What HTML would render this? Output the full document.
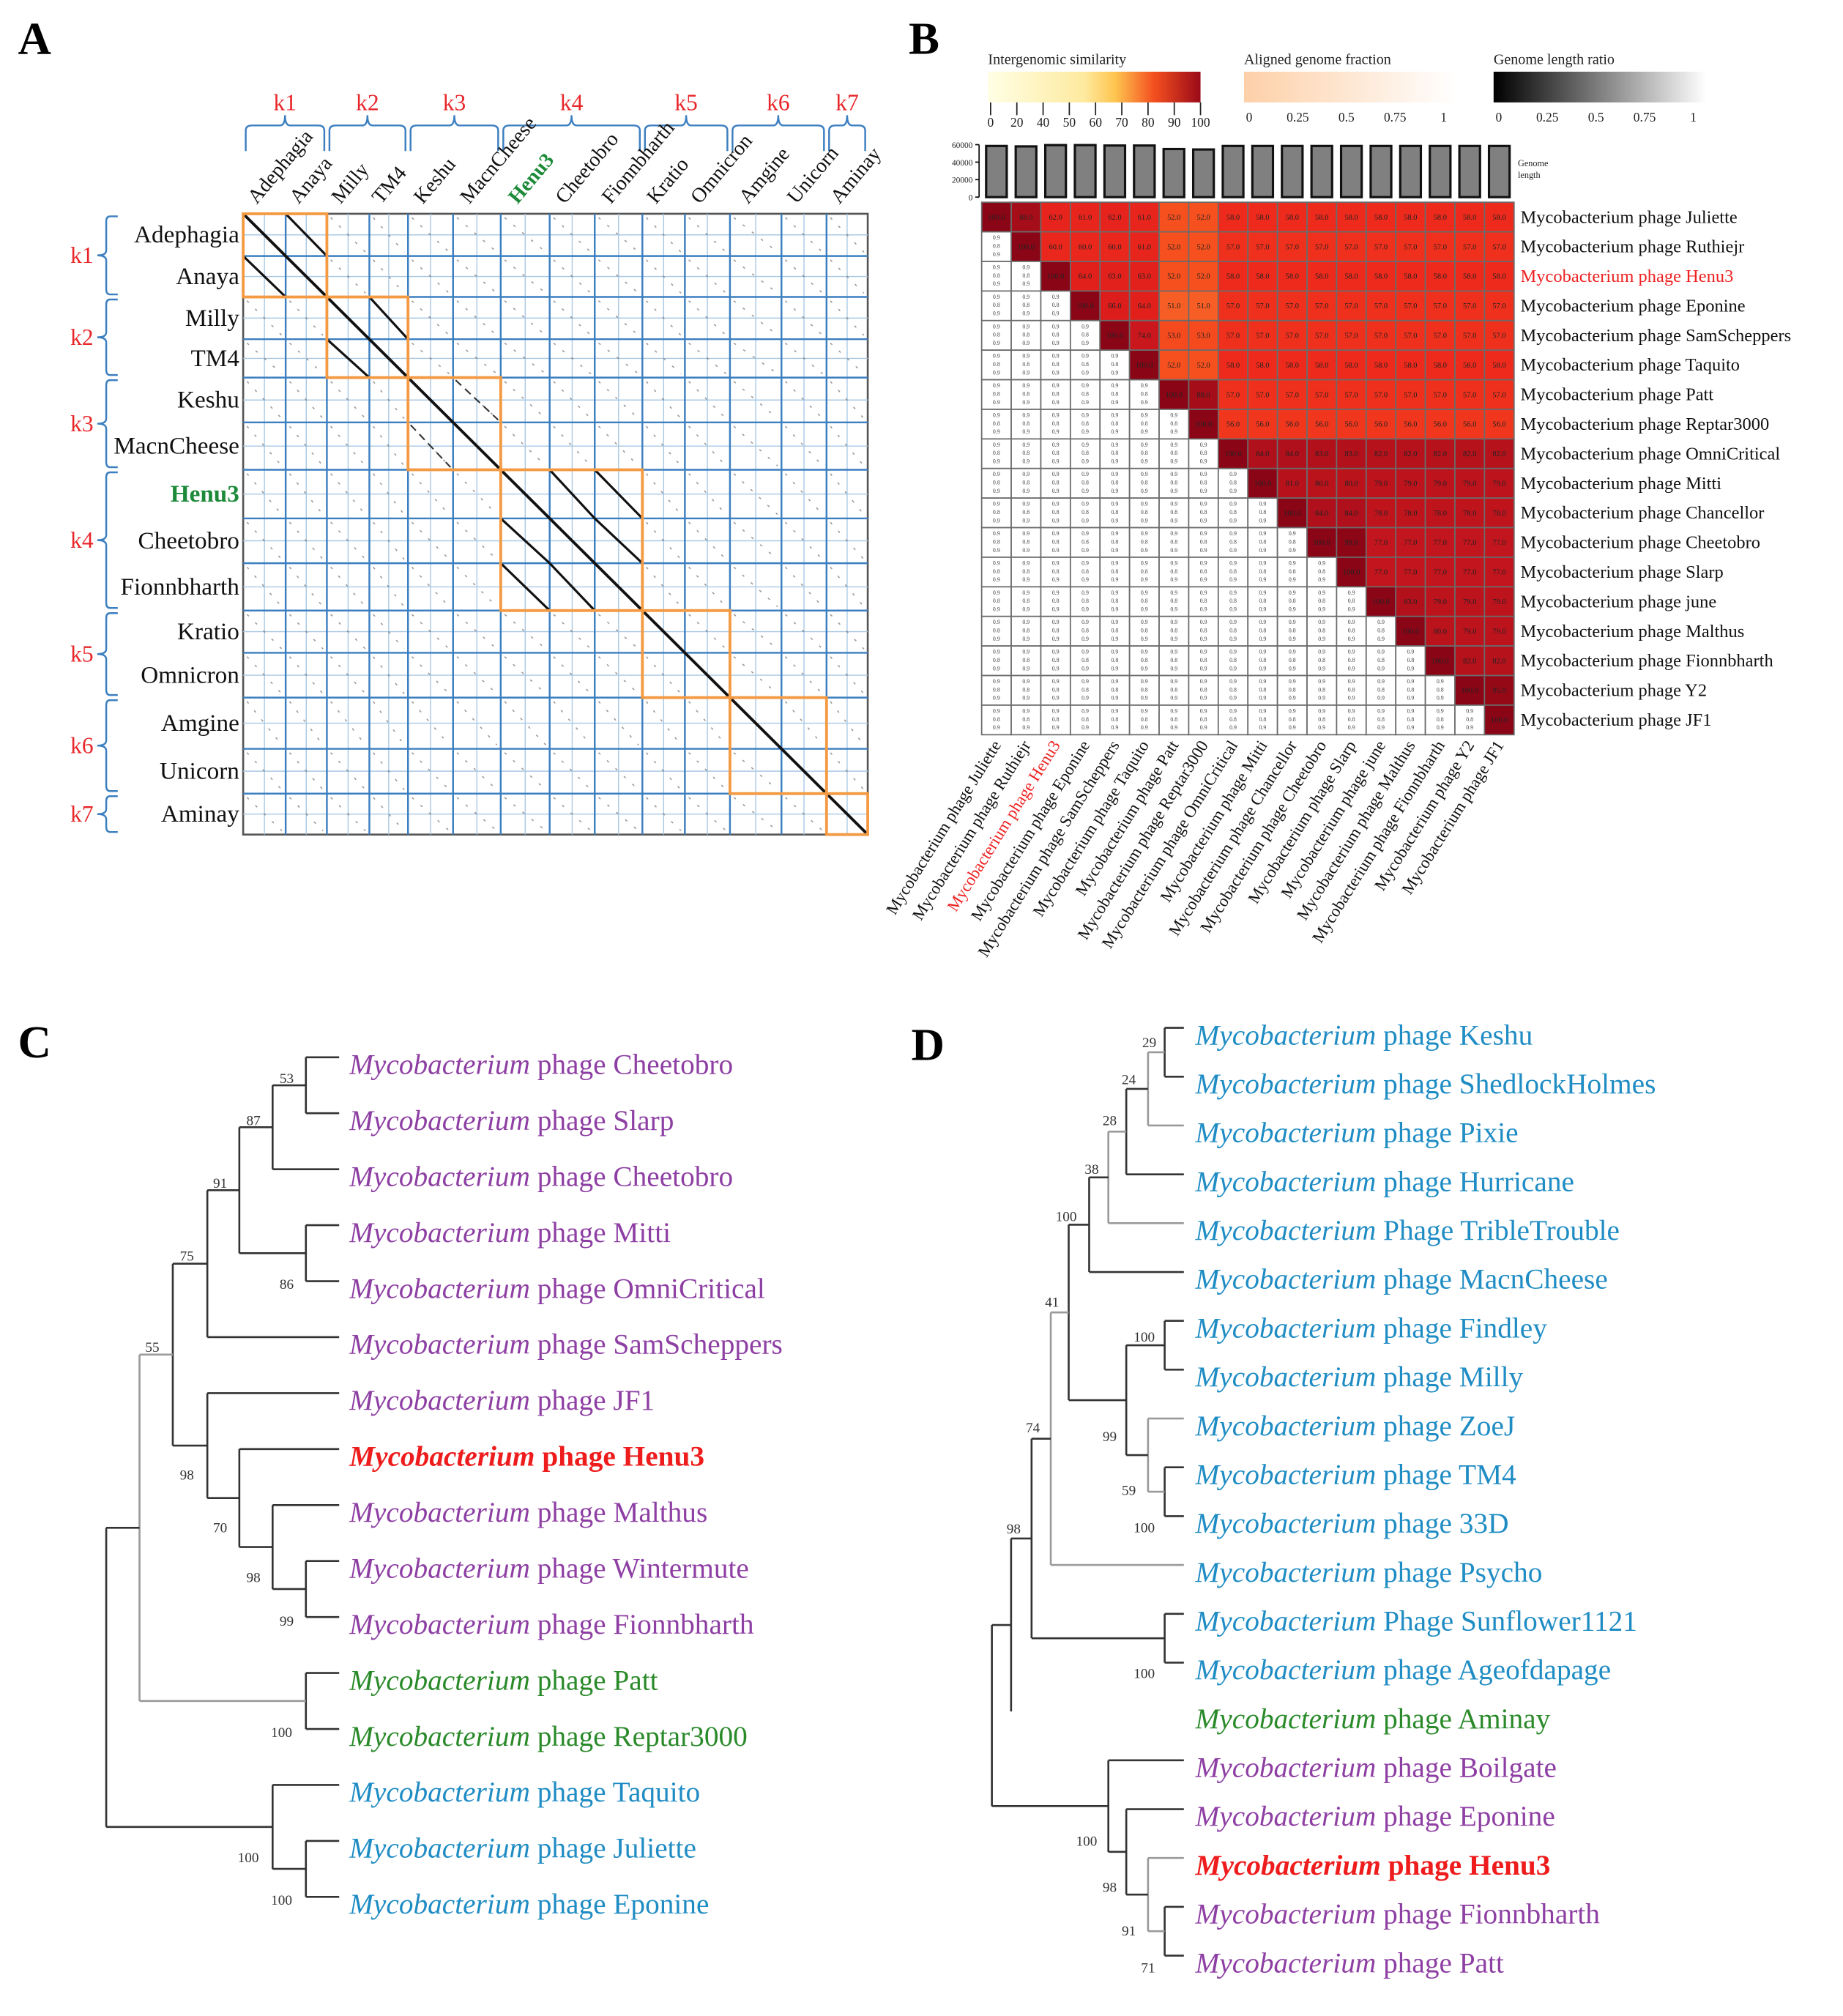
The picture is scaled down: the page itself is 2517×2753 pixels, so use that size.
<!DOCTYPE html>
<html><head><meta charset="utf-8">
<style>
html,body{margin:0;padding:0;background:#fff;}
svg{display:block;font-family:"Liberation Serif",serif;}
</style></head>
<body>
<svg id="fig" xmlns="http://www.w3.org/2000/svg" width="2517" height="2753" viewBox="0 0 1440 1575">
<rect x="0" y="0" width="1440" height="1575" fill="#fff"/>
<text x="14" y="42" font-size="36" font-weight="bold">A</text>
<text x="710" y="42" font-size="36" font-weight="bold">B</text>
<text x="14" y="826" font-size="36" font-weight="bold">C</text>
<text x="712" y="828" font-size="36" font-weight="bold">D</text>
<g id="pa"></g>
<g id="pb"></g>
<g id="pc"></g>
<g id="pd"></g>
</svg>
<script>
// ---------- Panel A data ----------
const aGenomes = ["Adephagia","Anaya","Milly","TM4","Keshu","MacnCheese","Henu3","Cheetobro","Fionnbharth","Kratio","Omnicron","Amgine","Unicorn","Aminay"];
const aLengths = [33,32,33,30,35,37,38,35,37,33,35,40,35,32];
const aClusters = ["k1","k2","k3","k4","k5","k6","k7"];
const aClusterStart = [0,2,4,6,9,11,13];
const aClusterEnd = [2,4,6,9,11,13,14];
const aClusterOffDiag = [1,1,2,1,0,0,0];

// ---------- Panel B data ----------
const bPhages = ["Juliette","Ruthiejr","Henu3","Eponine","SamScheppers","Taquito","Patt","Reptar3000","OmniCritical","Mitti","Chancellor","Cheetobro","Slarp","june","Malthus","Fionnbharth","Y2","JF1"];
const bGenomeLen = [58500,58000,59500,59500,59000,59000,55000,54500,58500,58500,58500,58500,58500,58500,58500,58500,58500,58500];
const bSimRows = [
 [100,88,62,61,62,61,52,52,58,58,58,58,58,58,58,58,58,58],
 [100,60,60,60,61,52,52,57,57,57,57,57,57,57,57,57,57],
 [100,64,63,63,52,52,58,58,58,58,58,58,58,58,58,58],
 [100,66,64,51,51,57,57,57,57,57,57,57,57,57,57],
 [100,74,53,53,57,57,57,57,57,57,57,57,57,57],
 [100,52,52,58,58,58,58,58,58,58,58,58,58],
 [100,88,57,57,57,57,57,57,57,57,57,57],
 [100,56,56,56,56,56,56,56,56,56,56],
 [100,84,84,83,83,82,82,82,82,82],
 [100,81,80,80,79,79,79,79,79],
 [100,84,84,78,78,78,78,78],
 [100,99,77,77,77,77,77],
 [100,77,77,77,77,77],
 [100,83,79,79,79],
 [100,80,79,79],
 [100,82,82],
 [100,95],
 [100]
];
const bLenTicks = [0,20000,40000,60000];
const bSimTicks = [0,20,40,50,60,70,80,90,100];
const bFracTicks = ["0","0.25","0.5","0.75","1"];

// ---------- Panel C data ----------
const cLeaves = ["Cheetobro","Slarp","Cheetobro","Mitti","OmniCritical","SamScheppers","JF1","Henu3","Malthus","Wintermute","Fionnbharth","Patt","Reptar3000","Taquito","Juliette","Eponine"];
const cColors = ["p","p","p","p","p","p","p","r","p","p","p","g","g","b","b","b"];
const cSupport = ["53","87","91","86","75","55","98","70","98","99","100","100","100"];

// ---------- Panel D data ----------
const dLeaves = ["Keshu","ShedlockHolmes","Pixie","Hurricane","TribleTrouble","MacnCheese","Findley","Milly","ZoeJ","TM4","33D","Psycho","Sunflower1121","Ageofdapage","Aminay","Boilgate","Eponine","Henu3","Fionnbharth","Patt"];
const dColors = ["b","b","b","b","b","b","b","b","b","b","b","b","b","b","g","p","p","r","p","p"];
const dSupport = ["29","24","28","38","100","41","100","99","74","59","100","98","100","100","98","91","71"];

const NS="http://www.w3.org/2000/svg";
function mk(tag, attrs, parent){const e=document.createElementNS(NS,tag);for(const k in attrs)e.setAttribute(k,attrs[k]);parent.appendChild(e);return e;}
const COL={p:"#8e3fa3",r:"#ee1c1c",g:"#2a8a2a",b:"#1f8cc4"};

// =============== PANEL A ===============
(function(){
 const g=document.getElementById('pa');
 const X0=190,X1=678,Y0=167,Y1=652;
 const tot=aLengths.reduce((a,b)=>a+b,0);
 const cum=[0];aLengths.forEach(v=>cum.push(cum[cum.length-1]+v));
 const xs=i=>X0+(X1-X0)*cum[i]/tot, ys=i=>Y0+(Y1-Y0)*cum[i]/tot;
 const frame=mk('rect',{x:X0,y:Y0,width:X1-X0,height:Y1-Y0,fill:'#fff',stroke:'#555','stroke-width':1.5},g);
 
 
 for(let i=0;i<aGenomes.length;i++){
  const xm=(xs(i)+xs(i+1))/2, ym=(ys(i)+ys(i+1))/2;
  mk('line',{x1:xm,y1:Y0,x2:xm,y2:Y1,stroke:'#a9c8e4','stroke-width':0.8},g);
  mk('line',{x1:X0,y1:ym,x2:X1,y2:ym,stroke:'#a9c8e4','stroke-width':0.8},g);
 }
 for(let i=0;i<aGenomes.length;i++)for(let j=0;j<aGenomes.length;j++){
  if(i===j)continue;
  mk('line',{x1:xs(j)+3,y1:ys(i)+3,x2:xs(j+1)-3,y2:ys(i+1)-3,stroke:'#777','stroke-width':0.9,'stroke-dasharray':'2 7',opacity:0.75},g);
 }
 for(let i=1;i<aGenomes.length;i++){
  const v=mk('line',{x1:xs(i),y1:Y0,x2:xs(i),y2:Y1,stroke:'#3c7fc0','stroke-width':1.4},g);
  
  
  const h=mk('line',{x1:X0,y1:ys(i),x2:X1,y2:ys(i),stroke:'#3c7fc0','stroke-width':1.4},g);
  
  
 }
 aClusters.forEach((k,ci)=>{
  const s=aClusterStart[ci],e=aClusterEnd[ci];
  for(let i=s;i<e;i++)for(let j=s;j<e;j++){
   if(i!==j && aClusterOffDiag[ci]===0) continue;
   if(i!==j && aClusterOffDiag[ci]===2){
    mk('line',{x1:xs(j)+2,y1:ys(i)+2,x2:xs(j+1)-2,y2:ys(i+1)-2,stroke:'#333','stroke-width':1.2,'stroke-dasharray':'6 4'},g);
    continue;
   }
   const ln=mk('line',{x1:xs(j),y1:ys(i),x2:xs(j+1),y2:ys(i+1),stroke:'#111','stroke-width':i===j?2.2:1.8},g);
   
   
  }
  const bx=mk('rect',{x:xs(s),y:ys(s),width:xs(e)-xs(s),height:ys(e)-ys(s),fill:'none',stroke:'#f39a43','stroke-width':2.2},g);
  
  
  const x1=xs(s)+2,x2=xs(e)-2,xm=(x1+x2)/2;
  const tb=mk('path',{d:`M${x1},118 L${x1},102 Q${x1},98 ${x1+5},98 L${xm-4},98 Q${xm},98 ${xm},90 Q${xm},98 ${xm+4},98 L${x2-5},98 Q${x2},98 ${x2},102 L${x2},118`,fill:'none',stroke:'#3c7fc0','stroke-width':1.4},g);
  
  
  const tl=mk('text',{x:xm,y:86,'font-size':18,fill:'#e8262a','text-anchor':'middle'},g);
  tl.textContent=k;
  
  
  const y1=ys(s)+2,y2=ys(e)-2,ym=(y1+y2)/2;
  const lb=mk('path',{d:`M92,${y1} L86,${y1} Q83,${y1} 83,${y1+4} L83,${ym-4} Q83,${ym} 76,${ym} Q83,${ym} 83,${ym+4} L83,${y2-4} Q83,${y2} 86,${y2} L92,${y2}`,fill:'none',stroke:'#3c7fc0','stroke-width':1.4},g);
  
  
  const ll=mk('text',{x:64,y:ym+6,'font-size':18,fill:'#e8262a','text-anchor':'middle'},g);
  ll.textContent=k;
  
  
 });
 aGenomes.forEach((n,i)=>{
  const isH=n==='Henu3';
  const ym=(ys(i)+ys(i+1))/2;
  const t=mk('text',{x:187,y:ym+6,'font-size':19,'text-anchor':'end',fill:isH?'#1d8a3a':'#111','font-weight':isH?'bold':'normal'},g);
  t.textContent=n;
  
  
  const xm=(xs(i)+xs(i+1))/2;
  const c=mk('text',{x:0,y:0,'font-size':16,transform:`translate(${xm-6},${160}) rotate(-50)`,fill:isH?'#1d8a3a':'#111','font-weight':isH?'bold':'normal'},g);
  c.textContent=n;
  
  
 });
})();

// =============== PANEL B ===============
(function(){
 const g=document.getElementById('pb');
 const X0=767,Y0=158,N=bPhages.length,CS=416/N;
 const stops=[[0,'#ffffcc'],[30,'#ffeda0'],[45,'#feb24c'],[52,'#f5501e'],[58,'#ee2a1c'],[66,'#dd1c1c'],[78,'#c0141d'],[86,'#a90f1a'],[100,'#8a0516']];
 function hex(c){return [1,3,5].map(i=>parseInt(c.substr(i,2),16));}
 function col(v){for(let k=1;k<stops.length;k++){if(v<=stops[k][0]){const a=stops[k-1],b=stops[k];const t=(v-a[0])/(b[0]-a[0]);const A=hex(a[1]),B=hex(b[1]);return 'rgb('+A.map((x,i)=>Math.round(x+(B[i]-x)*t)).join(',')+')';}}return stops[stops.length-1][1];}
 const defs=mk('defs',{},g);
 const lg1=mk('linearGradient',{id:'gs'},defs);
 [[0,'#ffffe5'],[0.45,'#feeaa0'],[0.6,'#fec44f'],[0.78,'#f4501f'],[1,'#9a0a18']].forEach(s=>mk('stop',{offset:s[0],'stop-color':s[1]},lg1));
 const lg2=mk('linearGradient',{id:'gf'},defs);
 [[0,'#fdd0a8'],[1,'#ffffff']].forEach(s=>mk('stop',{offset:s[0],'stop-color':s[1]},lg2));
 const lg3=mk('linearGradient',{id:'gl'},defs);
 [[0,'#000'],[1,'#fff']].forEach(s=>mk('stop',{offset:s[0],'stop-color':s[1]},lg3));
 const legs=[[772,'gs','Intergenomic similarity','similarity-legend'],[972,'gf','Aligned genome fraction','fraction-legend'],[1167,'gl','Genome length ratio','length-ratio-legend']];
 legs.forEach(L=>{
  const t=mk('text',{x:L[0],y:50,'font-size':11.5,fill:'#222'},g);t.textContent=L[2];
  
  
  const r=mk('rect',{x:L[0],y:56,width:166,height:24,fill:`url(#${L[1]})`},g);
  
  
 });
 bSimTicks.forEach((v,i)=>{
  const x=774+i*20.5;
  mk('line',{x1:x,y1:80,x2:x,y2:90,stroke:'#222','stroke-width':1},g);
  const t=mk('text',{x:x,y:99,'font-size':10,'text-anchor':'middle',fill:'#222'},g);t.textContent=v;
  
  
 });
 bFracTicks.forEach((v,i)=>{
  [972,1167].forEach(x0=>{
   const t=mk('text',{x:x0+4+i*38,y:95,'font-size':10,'text-anchor':'middle',fill:'#222'},g);t.textContent=v;
   
   
  });
 });
 const ly=v=>154-v*(41/60000);
 mk('line',{x1:765,y1:ly(0),x2:765,y2:ly(60000),stroke:'#111','stroke-width':1},g);
 bLenTicks.forEach(v=>{
  mk('line',{x1:762,y1:ly(v),x2:765,y2:ly(v),stroke:'#111'},g);
  const t=mk('text',{x:760,y:ly(v)+2.5,'font-size':6.5,'text-anchor':'end',fill:'#222'},g);t.textContent=v;
  
  
 });
 bGenomeLen.forEach((v,j)=>{
  const r=mk('rect',{x:X0+CS*j+3.5,y:ly(v),width:CS-7,height:ly(0)-ly(v),fill:'#808080',stroke:'#111','stroke-width':1.8},g);
  
  
 });
 const gl=mk('text',{x:1186,y:130,'font-size':7,fill:'#222'},g);gl.textContent='Genome';
 
 
 const gl2=mk('text',{x:1186,y:139,'font-size':7,fill:'#222'},g);gl2.textContent='length';
 for(let i=0;i<N;i++)for(let j=0;j<N;j++){
  const x=X0+CS*j,y=Y0+CS*i;
  if(j>=i){
   const v=bSimRows[i][j-i];
   const r=mk('rect',{x:x,y:y,width:CS,height:CS,fill:col(v),stroke:'#6b6b6b','stroke-width':1},g);
   
   
   const t=mk('text',{x:x+CS/2,y:y+CS/2+2,'font-size':6,'text-anchor':'middle',fill:'#222'},g);
   t.textContent=(v===100?'100.0':v.toFixed(1));
  } else {
   const r=mk('rect',{x:x,y:y,width:CS,height:CS,fill:'#fff',stroke:'#6b6b6b','stroke-width':1},g);
   
   
   for(let k=0;k<3;k++){const t=mk('text',{x:x+CS/2,y:y+6+k*6.5,'font-size':4.5,'text-anchor':'middle',fill:'#444'},g);t.textContent=k===1?'0.8':'0.9';}
  }
 }
 bPhages.forEach((n,i)=>{
  const red=n==='Henu3';
  const t=mk('text',{x:1188,y:Y0+CS*(i+0.5)+4.5,'font-size':14,fill:red?'#ee2222':'#111'},g);
  t.textContent='Mycobacterium phage '+n;
  
  
  const c=mk('text',{x:0,y:0,'font-size':13,'text-anchor':'end',fill:red?'#ee2222':'#111',transform:`translate(${X0+CS*(i+0.5)+4},${Y0+416+8}) rotate(-58)`},g);
  c.textContent='Mycobacterium phage '+n;
  
  
 });
})();

// =============== TREES ===============
function drawTree(g,tree,leafY,tipX,names,colors,labX,fs,supports,supPos,nm,noLine){
 function walk(n){
  if(typeof n==='number'){return leafY(n);}
  const ys=n.c.map(ch=>{const y=walk(ch);const cx=(typeof ch==='number')?tipX:ch.x;
   if(!(typeof ch==='number' && noLine.indexOf(ch)>=0)){
    const h=mk('line',{x1:n.x,y1:y,x2:cx,y2:y,stroke:n.light?'#9a9a9a':'#333','stroke-width':1.5},g);
    
    
   }
   return y;});
  const v=mk('line',{x1:n.x,y1:Math.min(...ys),x2:n.x,y2:Math.max(...ys),stroke:n.light?'#9a9a9a':'#333','stroke-width':1.5},g);
  
  
  return (Math.min(...ys)+Math.max(...ys))/2;
 }
 walk(tree);
 names.forEach((n,i)=>{
  const t=mk('text',{x:labX,y:leafY(i)+13,'font-size':fs,fill:COL[colors[i]],'font-weight':colors[i]==='r'?'bold':'normal'},g);
  const it=mk('tspan',{'font-style':'italic'},t);it.textContent='Mycobacterium';
  const rest=mk('tspan',{},t);rest.textContent=((n==='TribleTrouble'||n==='Sunflower1121')?' Phage ':' phage ')+n;
  
  
 });
 supports.forEach((s,i)=>{
  const t=mk('text',{x:supPos[i][0],y:supPos[i][1]+4,'font-size':11,'text-anchor':'middle',fill:'#333'},g);
  t.textContent=s;
  
  
 });
}
(function(){
 const g=document.getElementById('pc');
 const tree={x:83,c:[{x:109,light:1,c:[{x:135,c:[{x:162,c:[{x:187,c:[{x:213,c:[{x:239,c:[0,1]},2]},{x:239,c:[3,4]}]},5]},{x:162,c:[6,{x:187,c:[7,{x:213,c:[8,{x:239,c:[9,10]}]}]}]}]},{x:239,c:[11,12]}]},{x:213,c:[13,{x:239,c:[14,15]}]}]};
 const pos=[[224,842],[198,875],[172,924],[224,1003],[146,981],[119,1052],[146,1152],[172,1193],[198,1232],[224,1266],[220,1353],[194,1451],[220,1484]];
 drawTree(g,tree,i=>826+i*43.73,265,cLeaves,cColors,273,22.5,cSupport,pos,'tree-c',[]);
})();
(function(){
 const g=document.getElementById('pd');
 const up={x:851,c:[{x:866,light:1,c:[{x:880,c:[{x:897,light:1,c:[{x:910,c:[0,1]},2]},3]},4]},5]};
 const mid={x:880,c:[{x:910,c:[6,7]},{x:897,light:1,c:[8,{x:910,c:[9,10]}]}]};
 const tree={x:775,c:[{x:790,c:[{x:806,c:[{x:821,light:1,c:[{x:835,c:[up,mid]},11]},{x:910,c:[12,13]}]},14]},{x:866,c:[15,{x:880,c:[16,{x:897,light:1,c:[17,{x:910,c:[18,19]}]}]}]}]};
 const pos=[[898,814],[882,843],[867,875],[853,913],[833,950],[822,1017],[894,1044],[867,1122],[807,1115],[882,1164],[894,1193],[792,1194],[894,1307],[849,1438],[867,1474],[882,1508],[897,1537]];
 drawTree(g,tree,i=>803+i*38.15,925,dLeaves,dColors,934,22.5,dSupport,pos,'tree-d',[14]);
})();
</script>
</body></html>
